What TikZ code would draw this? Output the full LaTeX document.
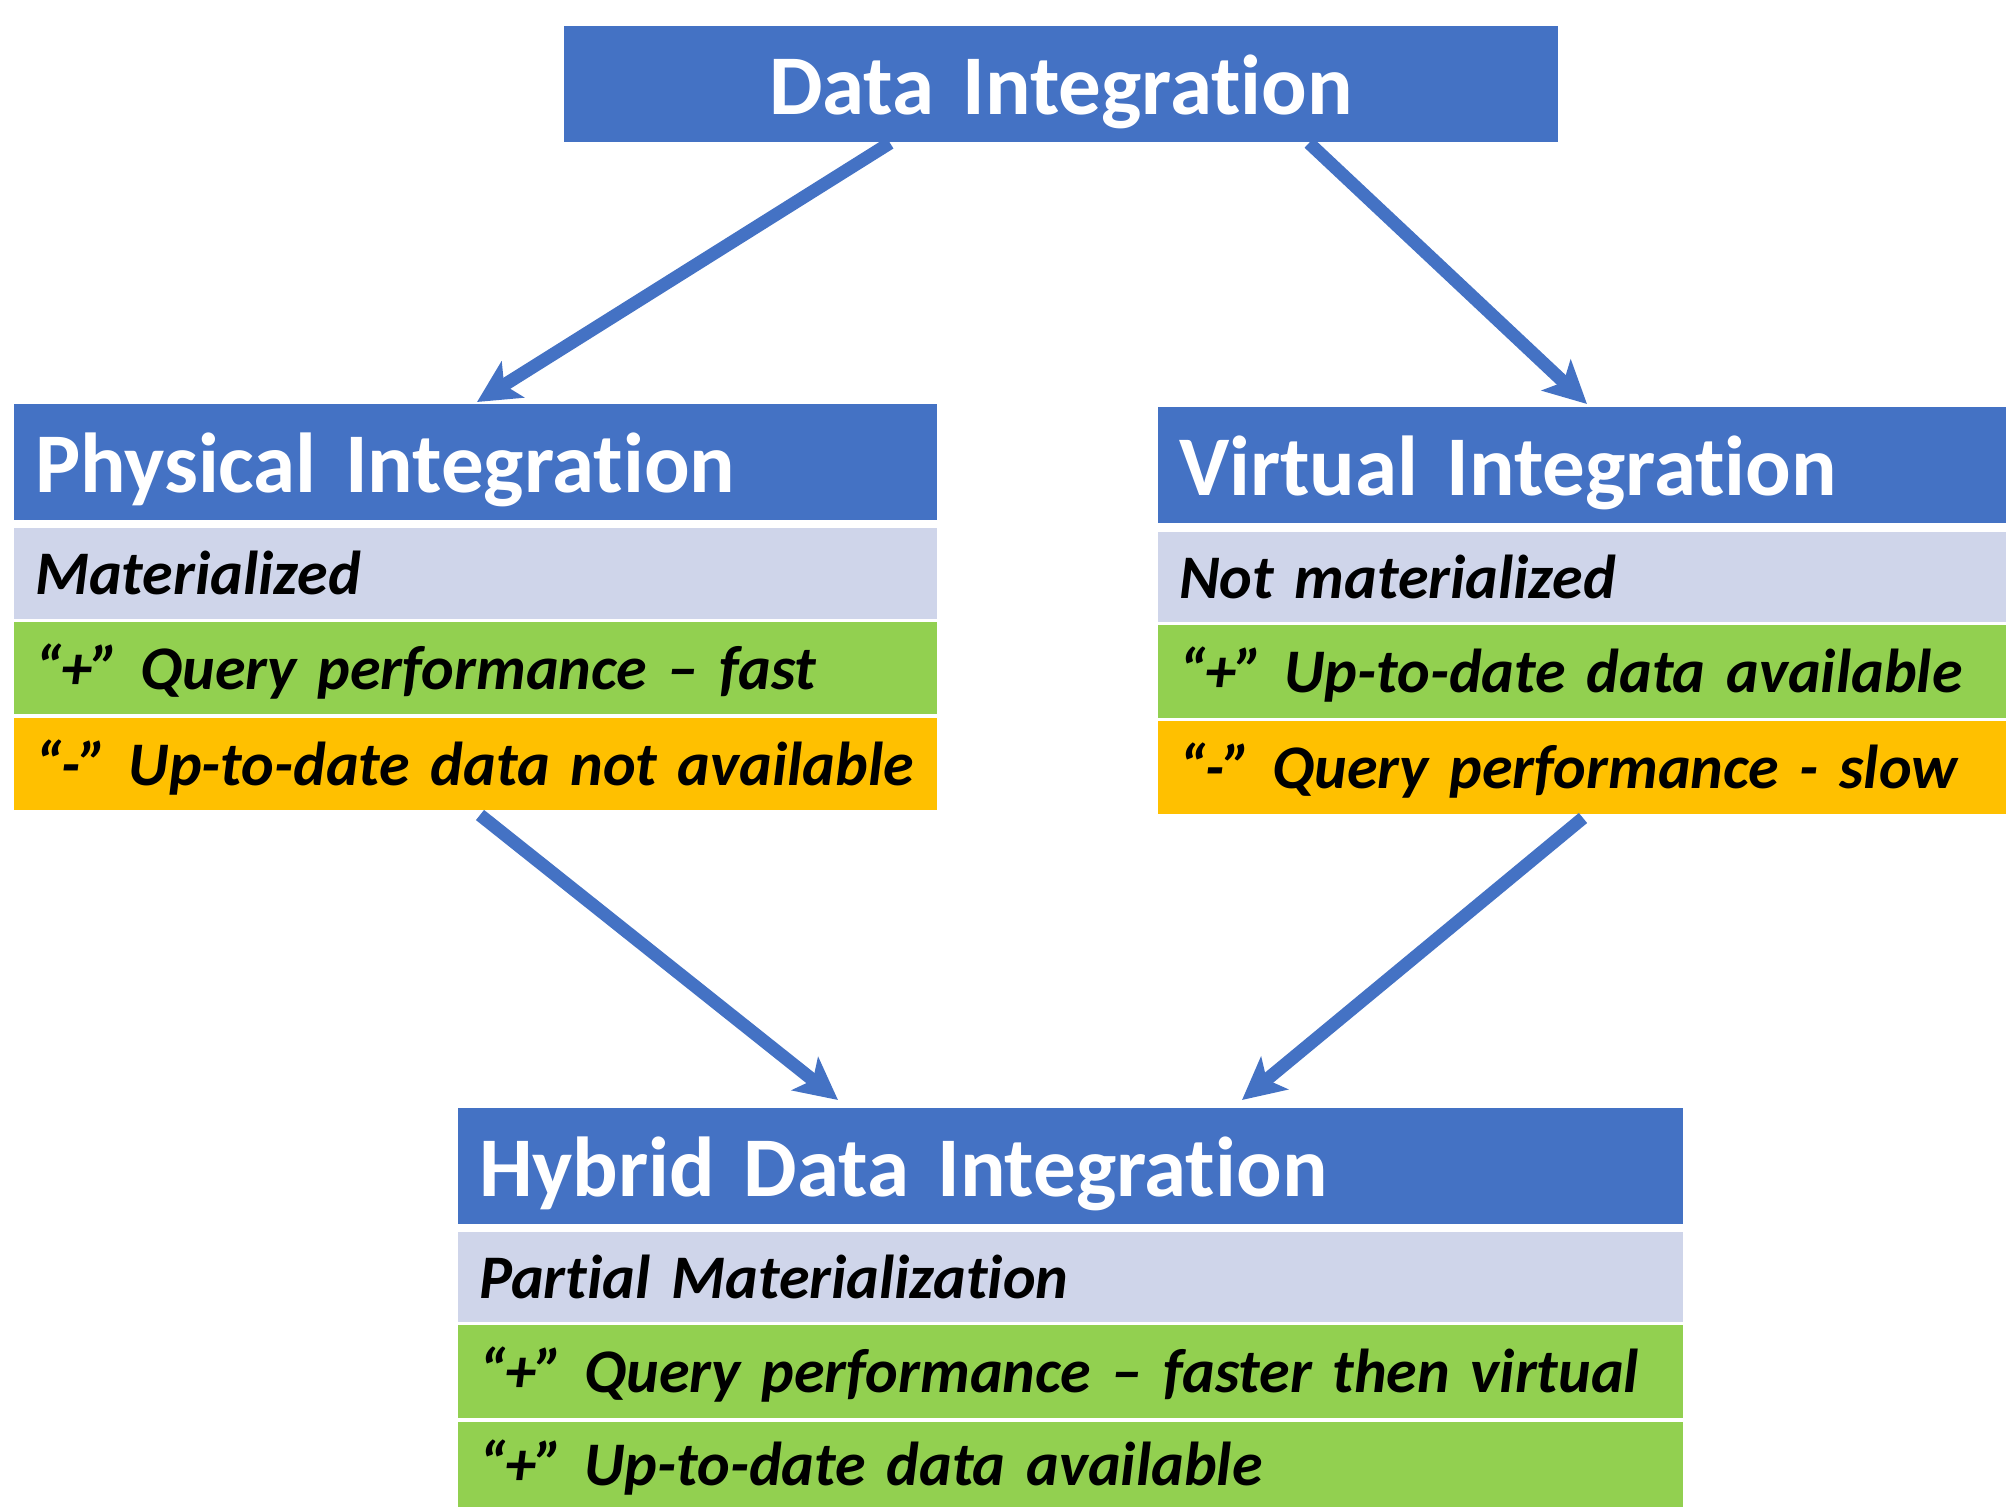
\documentclass[tikz,border=0pt]{standalone}
\usepackage{fontspec}
\setmainfont{Carlito}[Ligatures=NoCommon]
\usetikzlibrary{arrows.meta,calc}

\definecolor{hdrblue}{HTML}{4472C4}
\definecolor{bandgrey}{HTML}{CFD5EA}
\definecolor{plusgreen}{HTML}{92D050}
\definecolor{minusorange}{HTML}{FFC000}

\newcommand{\hdrfont}{\fontsize{85}{100}\selectfont\bfseries\spaceskip=0.19em\relax}
\newcommand{\rowfont}{\fontsize{62}{72}\selectfont\bfseries\itshape\spaceskip=0.2em\relax}

\tikzset{
  cell/.style={anchor=north west, inner xsep=21pt, inner ysep=0pt,
    text depth=0pt, align=left, outer sep=0pt},
  header/.style={cell, fill=hdrblue, text=white, minimum height=116pt,
    text height=60pt, font=\hdrfont},
  band/.style={cell, text=black, text height=42pt, font=\rowfont},
  flow/.style={line width=13pt, draw=hdrblue,
    -{Stealth[length=42pt, width=42pt, inset=10pt]}}
}

\begin{document}
\begin{tikzpicture}[x=1pt, y=-1pt]
\useasboundingbox (0,0) rectangle (2006,1507);

% top level
\node[header, align=center, text width=952pt, minimum width=994pt] (di) at (564,26) {Data Integration};

% physical integration column
\node[header, text width=881pt, minimum width=923pt] (phys) at (14,404) {Physical Integration};
\node[band, fill=bandgrey, text width=881pt, minimum width=923pt, minimum height=91pt] (physA) at (14,528) {Materialized};
\node[band, fill=plusgreen, text width=881pt, minimum width=923pt, minimum height=92pt] (physB) at (14,622) {“+” Query performance – fast};
\node[band, fill=minusorange, text width=881pt, minimum width=923pt, minimum height=92pt] (physC) at (14,718) {“-” Up-to-date data not available};

% virtual integration column
\node[header, text width=806pt, minimum width=848pt] (virt) at (1158,407) {Virtual Integration};
\node[band, fill=bandgrey, text width=806pt, minimum width=848pt, minimum height=90pt] (virtA) at (1158,532) {Not materialized};
\node[band, fill=plusgreen, text width=806pt, minimum width=848pt, minimum height=93pt] (virtB) at (1158,625) {“+” Up-to-date data available};
\node[band, fill=minusorange, text width=806pt, minimum width=848pt, minimum height=93pt] (virtC) at (1158,721) {“-” Query performance - slow};

% hybrid integration
\node[header, text width=1183pt, minimum width=1225pt] (hyb) at (458,1108) {Hybrid Data Integration};
\node[band, fill=bandgrey, text width=1183pt, minimum width=1225pt, minimum height=90pt] (hybA) at (458,1232) {Partial Materialization};
\node[band, fill=plusgreen, text width=1183pt, minimum width=1225pt, minimum height=93pt] (hybB) at (458,1325) {“+” Query performance – faster then virtual};
\node[band, fill=plusgreen, text width=1183pt, minimum width=1225pt, minimum height=85pt] (hybC) at (458,1422) {“+” Up-to-date data available};

% connectors
\draw[flow] ($(di.south west)+(326,1)$) -- ($(phys.north west)+(463,-2)$);
\draw[flow] ($(di.south west)+(745,1)$) -- ($(virt.north west)+(429,-3)$);
\draw[flow] ($(physC.south west)+(466,5)$) -- ($(hyb.north west)+(380,-8)$);
\draw[flow] ($(virtC.south west)+(425,4)$) -- ($(hyb.north west)+(784,-8)$);
\end{tikzpicture}
\end{document}
